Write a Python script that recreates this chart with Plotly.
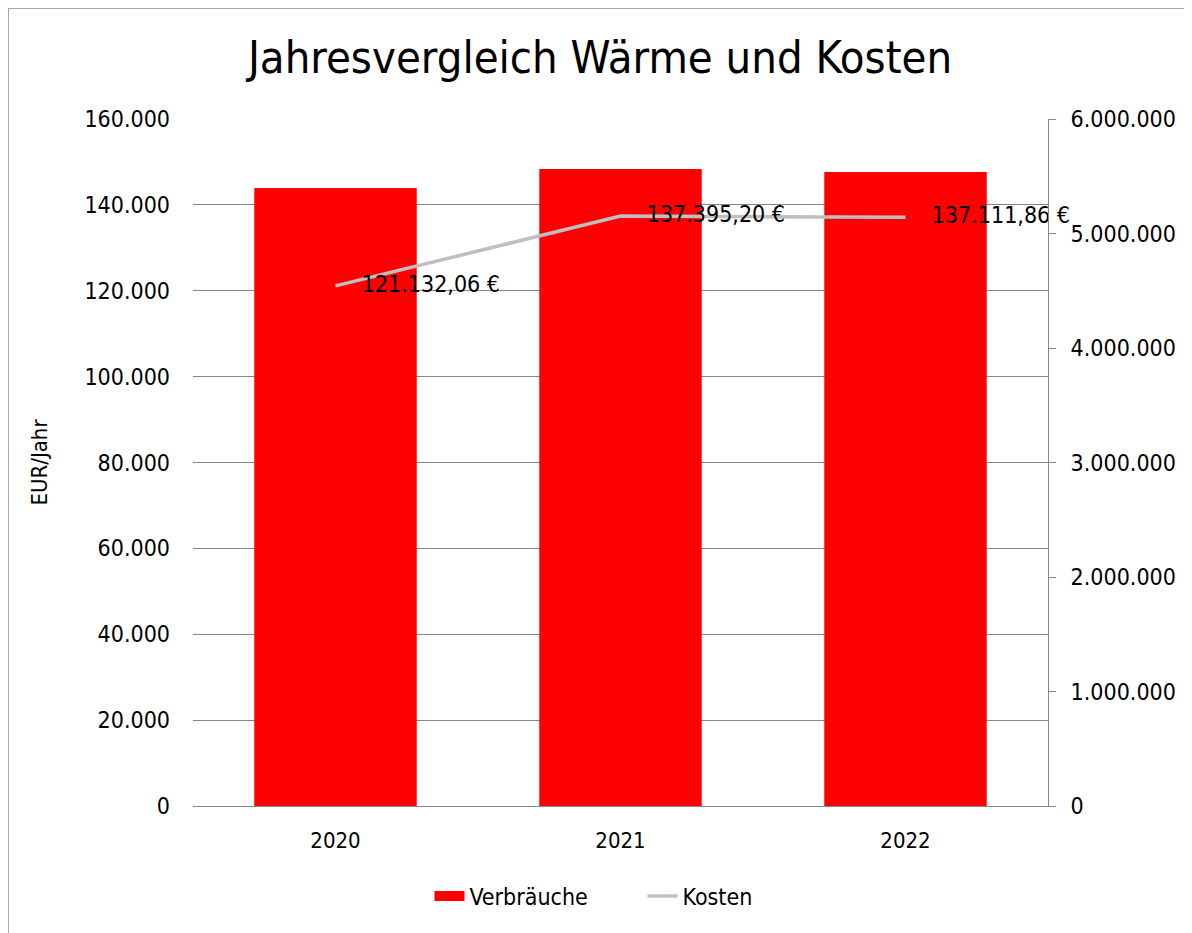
import plotly.graph_objects as go

# data
jahre = ["2020", "2021", "2022"]
verbraeuche = [5397000, 5563000, 5537000]   # right axis
kosten = [121132.06, 137395.20, 137111.86]  # EUR/Jahr, left axis


def eur(v):
    s = f"{v:,.2f}".replace(",", "X").replace(".", ",").replace("X", ".")
    return "\u00a0\u00a0\u00a0\u00a0" + s + " €"


# page has an 8px body margin, so the figure is a bit smaller than the window
W, H = 1184, 925
L, R, T, B = 185, 144, 111, 127
pw, ph = W - L - R, H - T - B

FONT = "DejaVu Sans Condensed, Liberation Sans Narrow, sans-serif"
GRID = "#868686"

fig = go.Figure()

fig.add_trace(go.Bar(
    x=jahre, y=verbraeuche, name="Verbräuche",
    marker=dict(color="#FF0000", line=dict(width=0)),
    yaxis="y", hoverinfo="skip", showlegend=False,
))
# legend entry drawn as a wide red block like the original
fig.add_trace(go.Scatter(
    x=[None], y=[None], name="Verbräuche", mode="lines",
    line=dict(color="#FF0000", width=14), yaxis="y",
))

fig.add_trace(go.Scatter(
    x=jahre, y=kosten, name="Kosten", yaxis="y2",
    mode="lines+text",
    line=dict(color="#BFBFBF", width=3.5),
    text=[eur(v) for v in kosten],
    textposition="middle right",
    textfont=dict(family=FONT, size=23, color="#000000"),
    cliponaxis=False,
))


def px_x(px):
    return (px - L) / pw


def px_y(py):
    return (H - B - py) / ph


fig.update_layout(
    width=W, height=H,
    margin=dict(l=L, r=R, t=T, b=B, autoexpand=False),
    paper_bgcolor="white", plot_bgcolor="white",
    separators=",.",
    font=dict(family=FONT, size=22, color="#000000"),
    title=dict(text="Jahresvergleich Wärme und Kosten", x=0.5, xanchor="center",
               y=1 - 49 / H, yanchor="middle",
               font=dict(family=FONT, size=45, color="#000000")),
    bargap=0.43,
    showlegend=True,
    legend=dict(orientation="h", x=0.5 + 22 / pw, xanchor="center", y=px_y(888), yanchor="middle",
                font=dict(family=FONT, size=23), traceorder="normal",
                entrywidth=168, entrywidthmode="pixels"),
    xaxis=dict(showgrid=False, showline=True, linecolor=GRID, linewidth=1,
               ticks="", tickfont=dict(size=22), ticklabelstandoff=15),
    yaxis=dict(side="right", range=[0, 6000000], dtick=1000000, tickformat=",d",
               showgrid=False, zeroline=False, showline=True, linecolor=GRID, linewidth=1,
               ticks="outside", ticklen=7, tickcolor=GRID,
               tickfont=dict(size=23), ticklabelstandoff=10),
    yaxis2=dict(side="left", overlaying="y", range=[0, 160000], dtick=20000, tickformat=",d",
                showgrid=True, gridcolor=GRID, gridwidth=1, zeroline=False, showline=False,
                ticks="", tickfont=dict(size=23), ticklabelstandoff=22,
                title=dict(text="EUR/Jahr", font=dict(size=22), standoff=30)),
    shapes=[dict(type="rect", xref="paper", yref="paper",
                 x0=px_x(0), x1=px_x(W + 20), y0=px_y(H + 20), y1=px_y(0),
                 line=dict(color="#A6A6A6", width=2), layer="below")],
)

fig.write_html("out.html")
